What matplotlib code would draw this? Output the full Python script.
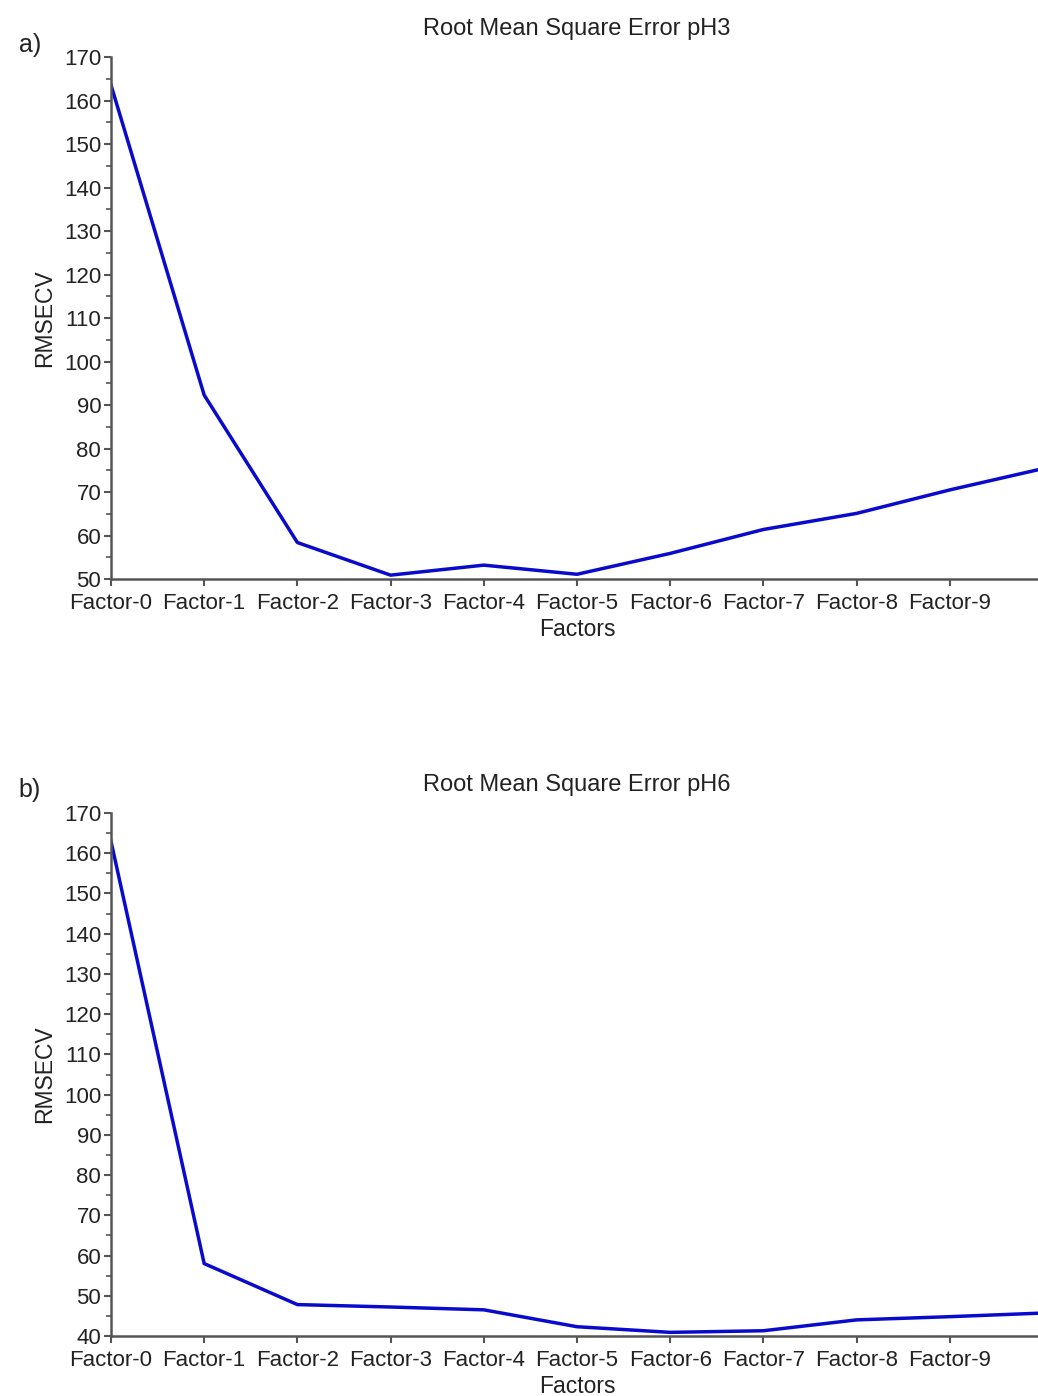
import matplotlib.pyplot as plt
from matplotlib.ticker import MultipleLocator

plt.rcParams['font.family'] = ['Liberation Sans', 'DejaVu Sans']

factors = ['Factor-0', 'Factor-1', 'Factor-2', 'Factor-3', 'Factor-4', 'Factor-5',
           'Factor-6', 'Factor-7', 'Factor-8', 'Factor-9']
x = list(range(11))

rmsecv_ph3 = [163.6, 92.3, 58.4, 50.9, 53.2, 51.1, 55.9, 61.4, 65.1, 70.5, 75.4]
rmsecv_ph6 = [163.0, 58.0, 47.8, 47.2, 46.5, 42.3, 40.9, 41.3, 44.0, 44.8, 45.7]

fig = plt.figure(figsize=(10.38, 13.96), dpi=100)

panels = [
    ([0.1069, 0.5852, 0.898, 0.3739], rmsecv_ph3, 'Root Mean Square Error pH3', 'a)', 50, 0.968),
    ([0.1069, 0.0430, 0.898, 0.3746], rmsecv_ph6, 'Root Mean Square Error pH6', 'b)', 40, 0.434),
]

for rect, vals, title, tag, ymin, tag_y in panels:
    ax = fig.add_axes(rect)
    ax.plot(x, vals, color='#0a0acc', lw=2.5)
    ax.set_xlim(0, 10)
    ax.set_ylim(ymin, 170)
    ax.yaxis.set_major_locator(MultipleLocator(10))
    ax.yaxis.set_minor_locator(MultipleLocator(5))
    ax.set_xticks(range(10))
    ax.set_xticklabels(factors)
    for s in ['top', 'right']:
        ax.spines[s].set_visible(False)
    for s in ['left', 'bottom']:
        ax.spines[s].set_color('#555555')
        ax.spines[s].set_linewidth(1.8)
    ax.tick_params(axis='both', which='major', labelsize=16, colors='#555555',
                   labelcolor='#222222', length=5, width=1.5, pad=2)
    ax.tick_params(axis='x', which='major', pad=5)
    ax.tick_params(axis='y', which='minor', colors='#555555', length=3.5, width=1.2)
    ax.set_title(title, fontsize=17, color='#222222', pad=16)
    ax.set_ylabel('RMSECV', fontsize=16.5, color='#222222', labelpad=6)
    ax.set_xlabel('Factors', fontsize=16.5, color='#222222', labelpad=3)
    fig.text(0.018, tag_y, tag, fontsize=18, color='#222222', va='center')

fig.savefig('out.png', dpi=100)
